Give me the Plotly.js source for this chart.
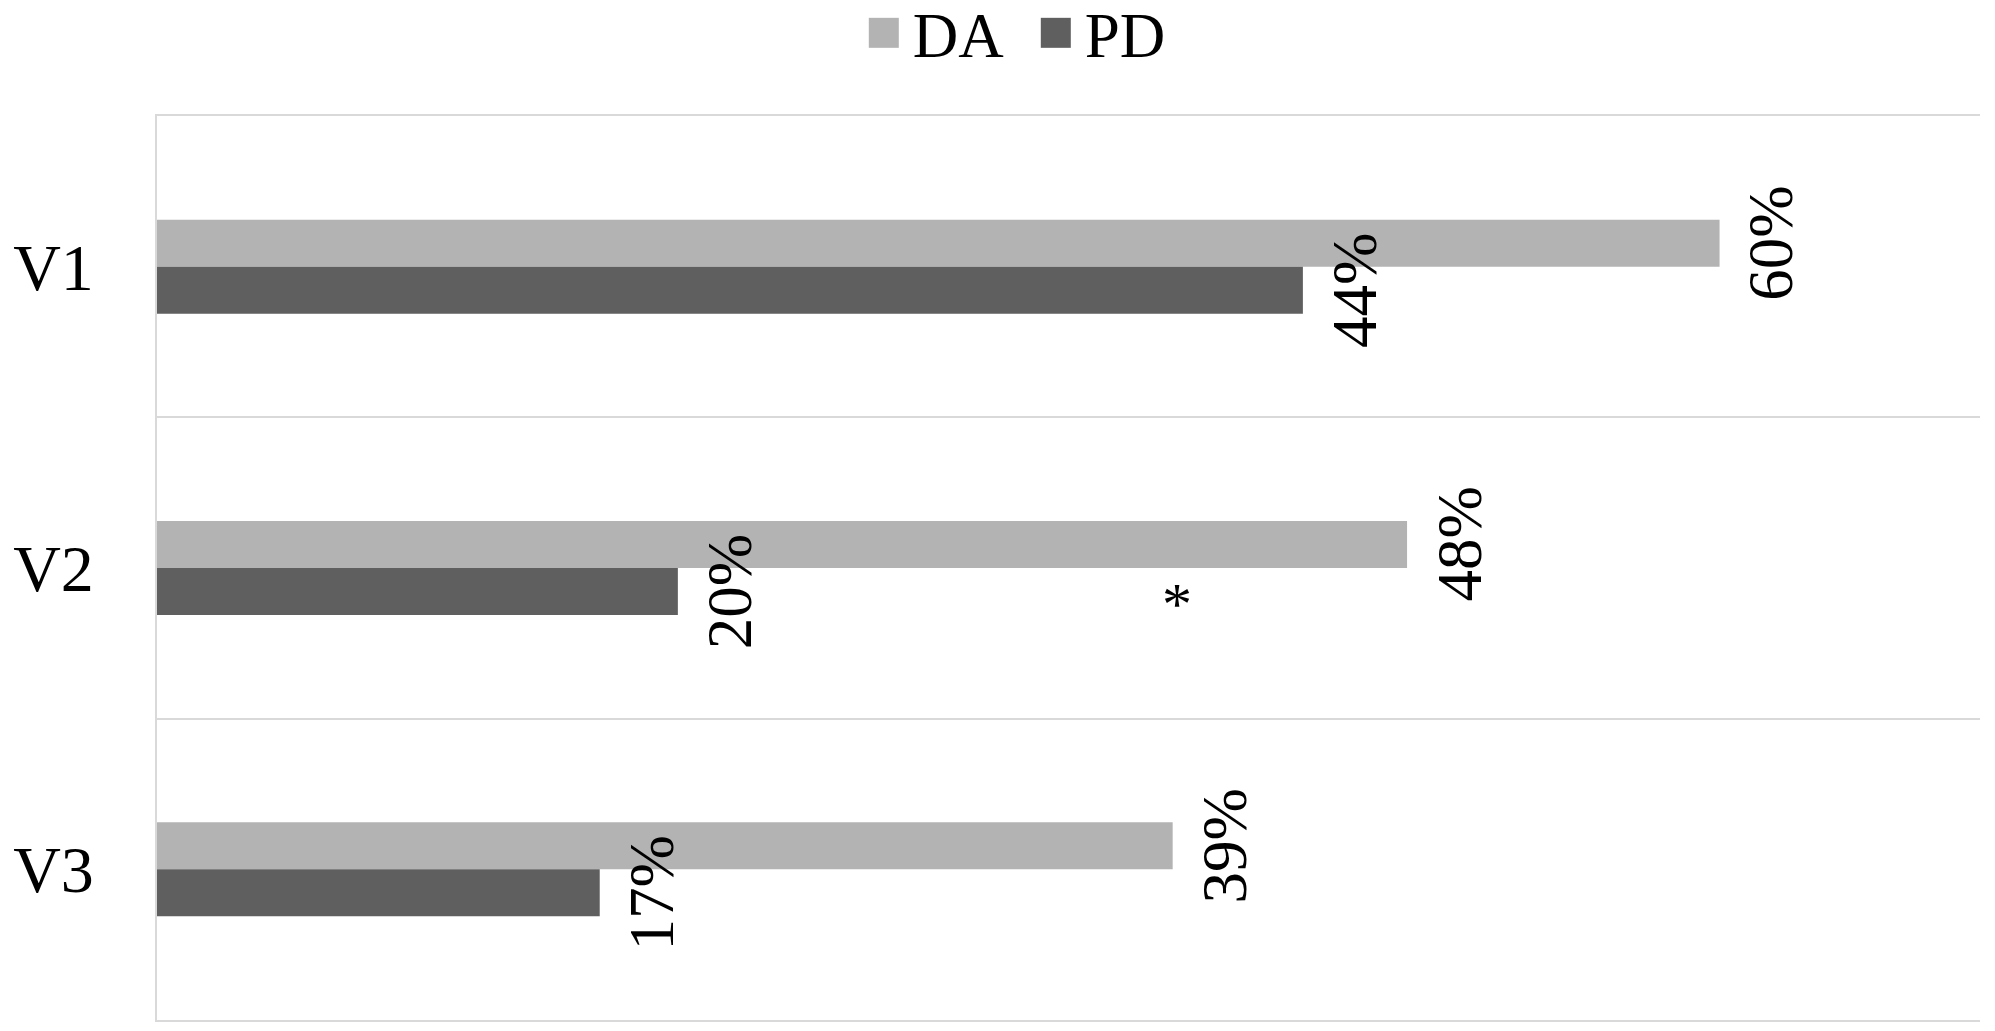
<!DOCTYPE html>
<html>
<head>
<meta charset="utf-8">
<script src="https://cdn.plot.ly/plotly-3.0.1.min.js"></script>
<style>
  html, body { margin: 0; padding: 0; background: #ffffff; }
  #chart { width: 1995px; height: 1031px; }
</style>
</head>
<body>
<div id="chart"></div>
<script>
const categories = ["V1", "V2", "V3"];
const seriesNames = ["DA", "PD"];
const daValues = [60, 48, 39];
const pdValues = [44, 20, 17];
const seriesColors = ["#b3b3b3", "#5f5f5f"];

// significance mark next to V2
const markText = "*";
const markCategory = "V2";
const markValue = 39.1;

const FONT = "'Liberation Serif', 'Times New Roman', serif";

function barTrace(name, values, color) {
  return {
    type: "bar",
    orientation: "h",
    name,
    y: categories,
    x: values,
    marker: { color, line: { width: 0 } },
    hoverinfo: "skip",
  };
}

// rotated value labels, sitting just past the end of each bar
function valueLabels(values, shiftY) {
  return values.map((v, i) => {
    return {
      x: v,
      y: categories[i],
      xref: "x",
      yref: "y",
      text: v + "%",
      textangle: -90,
      showarrow: false,
      xshift: 52,
      yshift: shiftY,
      font: { family: FONT, size: 63, color: "#000000" },
    };
  });
}

const annotations = [
  ...valueLabels(daValues, 23.5),
  ...valueLabels(pdValues, -23.5),
  {
    x: markValue,
    y: markCategory,
    xref: "x",
    yref: "y",
    text: markText,
    showarrow: false,
    xshift: 2,
    yshift: -36,
    font: { family: FONT, size: 60, color: "#000000" },
  },
];

Plotly.newPlot(
  "chart",
  [
    barTrace(seriesNames[0], daValues, seriesColors[0]),
    barTrace(seriesNames[1], pdValues, seriesColors[1]),
  ],
  {
    width: 1995,
    height: 1031,
    margin: { l: 157, r: 15, t: 116, b: 11, autoexpand: false },
    paper_bgcolor: "#ffffff",
    plot_bgcolor: "#ffffff",
    barmode: "group",
    bargap: 0.688,
    bargroupgap: 0,
    showlegend: true,
    legend: {
      orientation: "h",
      x: 0.487,
      xanchor: "center",
      y: 1.1445,
      yanchor: "top",
      entrywidth: 127,
      font: { family: FONT, size: 63, color: "#000000" },
      itemclick: false,
      itemdoubleclick: false,
    },
    xaxis: {
      range: [0, 70],
      showticklabels: false,
      showgrid: false,
      zeroline: false,
      ticks: "",
      showline: true,
      mirror: true,
      linecolor: "#d9d9d9",
      linewidth: 2,
    },
    yaxis: {
      autorange: "reversed",
      tickson: "boundaries",
      showgrid: true,
      gridcolor: "#d9d9d9",
      gridwidth: 2,
      ticks: "",
      showline: true,
      linecolor: "#d9d9d9",
      linewidth: 2,
      ticklabelstandoff: 48,
      tickfont: { family: FONT, size: 66, color: "#000000" },
    },
    annotations,
  },
  { staticPlot: true }
).then(() => {
  // Plotly draws bar legend swatches at 12px; the original uses ~30px squares
  // sitting a little closer to their text
  const box = document.querySelector("#chart .legend .scrollbox");
  if (box) box.removeAttribute("clip-path");
  document.querySelectorAll("#chart .legendpoints path").forEach((p) => {
    p.setAttribute("transform", "translate(11,0) scale(2.5)");
  });
});
</script>
</body>
</html>
